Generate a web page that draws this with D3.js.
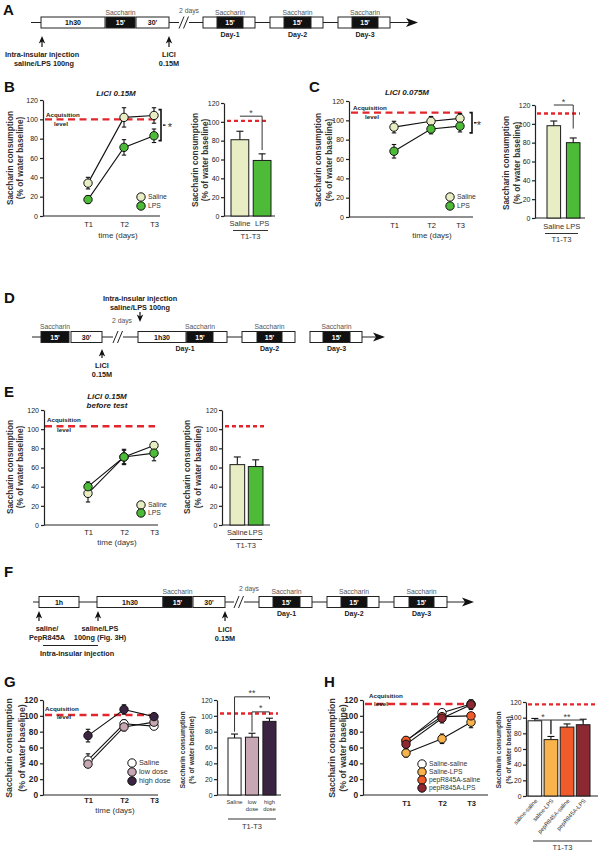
<!DOCTYPE html>
<html><head><meta charset="utf-8">
<script src="https://cdn.jsdelivr.net/npm/d3@7"></script>
<style>body{margin:0;background:#fff}svg{display:block}</style>
</head><body><svg id="c" width="600" height="853"></svg>
<script>
// ---------------- DATA ----------------
const timePoints = ["T1","T2","T3"];
const yTickValues = [0,20,40,60,80,100,120];

// Panel B (LiCl 0.15M)
const bSeriesNames = ["Saline","LPS"];
const bSalineMean = [34,102,104], bSalineErr = [6,10,8];
const bLpsMean = [17,71,83], bLpsErr = [4,8,7];
const bBarCats = ["Saline","LPS"];
const bBarMean = [81,59], bBarErr = [9,7];
const bAcq = 100, bBarAcq = 101;

// Panel C (LiCl 0.075M)
const cSalineMean = [93,99,102], cSalineErr = [6,5,5];
const cLpsMean = [68,91,94], cLpsErr = [7,5,6];
const cBarMean = [98,80], cBarErr = [5,5];
const cAcq = 108, cBarAcq = 111;

// Panel E (LiCl 0.15M before test)
const eSalineMean = [33,71,83], eSalineErr = [9,8,4];
const eLpsMean = [40,71,75], eLpsErr = [5,7,8];
const eBarMean = [63,61], eBarErr = [8,7];
const eAcq = 103, eBarAcq = 103;

// Panel G
const gGroups = ["Saline","low dose","high dose"];
const gSalineMean = [44,90,87], gSalineErr = [8,5,3];
const gLowMean = [39,86,92], gLowErr = [4,5,4];
const gHighMean = [75,108,99], gHighErr = [8,6,4];
const gBarLabels = [["Saline"],["low","dose"],["high","dose"]];
const gBarMean = [72,73,93], gBarErr = [5,5,4];
const gAcq = 101, gBarAcq = 103;

// Panel H
const hGroups = ["Saline-saline","Saline-LPS","pepR845A-saline","pepR845A-LPS"];
const hBarLabels = ["saline-saline","saline-LPS","pepR845A-saline","pepR845A-LPS"];
const hSsMean = [68,104,115], hSsErr = [5,3,5];
const hSlMean = [53,71,92], hSlErr = [5,6,7];
const hPsMean = [69,99,100], hPsErr = [4,6,4];
const hPlMean = [64,97,114], hPlErr = [6,6,6];
const hBarMean = [96,72,88,91], hBarErr = [3,4,4,7];
const hAcq = 115, hBarAcq = 117;

// ---------------- STYLE ----------------
const FONT = '"Liberation Sans", Arial, Helvetica, sans-serif';
const RED = "#e3262d";
const CREAM = "#e9edc3", GREEN = "#4dbb38";
const WHITE = "#ffffff", MAUVE = "#c7a7b3", PURPLE = "#3a2442";
const LORANGE = "#f8b34c", ORED = "#f15a29", DRED = "#8c2832";

const svg = d3.select("#c");

function txt(g,x,y,s,o={}){
  return g.append("text").attr("x",x).attr("y",y).text(s)
    .attr("font-family",FONT).attr("font-size",o.fs||7)
    .attr("font-weight",o.fw||"normal").attr("font-style",o.it?"italic":"normal")
    .attr("text-anchor",o.a||"middle").attr("fill",o.c||"#1a1a1a");
}
function styleAxis(sel,fs,fw){
  sel.selectAll("text").attr("font-family",FONT).attr("font-size",fs).attr("font-weight",fw).attr("fill","#222");
  sel.selectAll("line,path").attr("stroke","#222").attr("stroke-width",1.2);
}
function yLabel(g,xs,cy,fs){
  ["Saccharin consumption","(% of water baseline)"].forEach((s,i)=>{
    g.append("text").attr("transform",`translate(${xs[i]},${cy}) rotate(-90)`).attr("dy","0.35em")
      .attr("text-anchor","middle").attr("font-family",FONT).attr("font-size",fs)
      .attr("font-weight","bold").attr("fill","#333").text(s);
  });
}

// ---------------- LINE CHART ----------------
function lineChart(o){
  const g = svg.append("g");
  const y = d3.scaleLinear().domain([0,120]).range([o.yBase,o.yTop]);
  const x = d3.scaleOrdinal().domain(timePoints).range(o.tOff.map(d=>o.x0+d));
  g.append("line").attr("x1",o.acqX[0]).attr("x2",o.acqX[1]).attr("y1",y(o.acq)).attr("y2",y(o.acq))
    .attr("stroke",RED).attr("stroke-width",2.4).attr("stroke-dasharray","7,4.5");
  txt(g,o.acqT[0],o.acqT[1],"Acquisition",{fs:6.2,fw:"bold",a:"start"});
  txt(g,o.lvlT[0],o.lvlT[1],"level",{fs:6.2,fw:"bold"});
  const ay = g.append("g").attr("transform",`translate(${o.x0},0)`)
    .call(d3.axisLeft(y).tickValues(yTickValues).tickSize(3).tickSizeOuter(0).tickPadding(2));
  styleAxis(ay,o.tfs,o.tfw);
  const ax = g.append("g").attr("transform",`translate(0,${o.yBase})`)
    .call(d3.axisBottom(x).tickSize(0).tickPadding(o.xpad));
  ax.select(".domain").remove();
  styleAxis(ax,7.5,o.tfw);
  g.append("line").attr("x1",o.x0).attr("x2",o.x1).attr("y1",o.yBase).attr("y2",o.yBase)
    .attr("stroke","#222").attr("stroke-width",1.2);
  if(o.xTitle) txt(g,o.xTitle[0],o.xTitle[1],"time (days)",{fs:8,c:"#333"});
  yLabel(g,o.yl,o.ylc,o.ylfs);
  const all = o.series.map(s=>timePoints.map((t,i)=>({t,m:s.mean[i],e:s.err[i],fill:s.fill})));
  all.forEach(pts=>{
    g.append("path").datum(pts).attr("fill","none").attr("stroke","#111").attr("stroke-width",1.1)
      .attr("d",d3.line().x(d=>x(d.t)).y(d=>y(d.m)));
    pts.forEach(d=>{
      const cx = x(d.t);
      g.append("line").attr("x1",cx).attr("x2",cx).attr("y1",y(d.m-d.e)).attr("y2",y(d.m+d.e)).attr("stroke","#111").attr("stroke-width",1.1);
      [d.m-d.e,d.m+d.e].forEach(v=>g.append("line").attr("x1",cx-2.2).attr("x2",cx+2.2).attr("y1",y(v)).attr("y2",y(v)).attr("stroke","#111").attr("stroke-width",1.1));
    });
  });
  all.forEach(pts=>{
    g.selectAll(null).data(pts).enter().append("circle")
      .attr("cx",d=>x(d.t)).attr("cy",d=>y(d.m)).attr("r",4.2)
      .attr("fill",d=>d.fill).attr("stroke","#111").attr("stroke-width",1);
  });
  o.series.forEach((s,i)=>{
    g.append("circle").attr("cx",o.leg.x).attr("cy",o.leg.y[i]).attr("r",4.2).attr("fill",s.fill).attr("stroke","#111").attr("stroke-width",1);
    txt(g,o.leg.x+7,o.leg.y[i]+2.4,s.name,{fs:o.leg.fs,a:"start",c:"#333"});
  });
  if(o.bracket){
    const b=o.bracket, yt=y(b.top), yb=y(b.bottom), ym=(yt+yb)/2;
    g.append("path").attr("d",`M${b.x-2.5},${yt}L${b.x},${yt}L${b.x},${yb}L${b.x-2.5},${yb}`)
      .attr("fill","none").attr("stroke","#111").attr("stroke-width",1.6);
    g.append("line").attr("x1",b.x+2).attr("x2",b.x+4.5).attr("y1",ym).attr("y2",ym).attr("stroke","#111").attr("stroke-width",1.4);
    txt(g,b.sx,ym+6,"*",{fs:11,c:"#333"});
  }
}

// ---------------- BAR CHART ----------------
function barChart(o){
  const g = svg.append("g");
  const y = d3.scaleLinear().domain([0,120]).range([o.yBase,o.yTop]);
  const x = d3.scaleBand().domain(o.cats).range(o.band).paddingInner(o.pad);
  g.append("line").attr("x1",o.acqX[0]).attr("x2",o.acqX[1]).attr("y1",y(o.acq)).attr("y2",y(o.acq))
    .attr("stroke",RED).attr("stroke-width",2.4).attr("stroke-dasharray","4,3");
  const ay = g.append("g").attr("transform",`translate(${o.x0},0)`)
    .call(d3.axisLeft(y).tickValues(yTickValues).tickSize(3).tickSizeOuter(0).tickPadding(1.5));
  styleAxis(ay,o.tfs,o.tfw);
  g.append("line").attr("x1",o.x0).attr("x2",o.x1).attr("y1",o.yBase).attr("y2",o.yBase)
    .attr("stroke","#222").attr("stroke-width",1.2);
  const data = o.cats.map((c,i)=>({c,m:o.mean[i],e:o.err[i],f:o.fills[i]}));
  data.forEach(d=>{
    const cx = x(d.c)+x.bandwidth()/2;
    g.append("line").attr("x1",cx).attr("x2",cx).attr("y1",y(d.m)).attr("y2",y(d.m+d.e)).attr("stroke","#111").attr("stroke-width",1.1);
    g.append("line").attr("x1",cx-3.5).attr("x2",cx+3.5).attr("y1",y(d.m+d.e)).attr("y2",y(d.m+d.e)).attr("stroke","#111").attr("stroke-width",1.1);
  });
  g.selectAll(null).data(data).enter().append("rect")
    .attr("x",d=>x(d.c)).attr("y",d=>y(d.m)).attr("width",x.bandwidth()).attr("height",d=>o.yBase-y(d.m))
    .attr("fill",d=>d.f).attr("stroke","#1a1a1a").attr("stroke-width",1);
  const xc = i=>x(o.cats[i])+x.bandwidth()/2;
  (o.sig||[]).forEach(s=>{
    const yy=y(s.val);
    g.append("line").attr("x1",xc(s.a)).attr("x2",xc(s.b)).attr("y1",yy).attr("y2",yy).attr("stroke","#333").attr("stroke-width",1);
    if(s.dropA!=null) g.append("line").attr("x1",xc(s.a)).attr("x2",xc(s.a)).attr("y1",yy).attr("y2",y(s.dropA)).attr("stroke","#333").attr("stroke-width",1);
    if(s.dropB!=null) g.append("line").attr("x1",xc(s.b)).attr("x2",xc(s.b)).attr("y1",yy).attr("y2",y(s.dropB)).attr("stroke","#333").attr("stroke-width",1);
    txt(g,(xc(s.a)+xc(s.b))/2,yy-0.5,s.text,{fs:9,c:"#444"});
  });
  if(o.rotLabels){
    o.labels.forEach((l,i)=>{
      g.append("text").attr("transform",`translate(${xc(i)+3},${o.labY}) rotate(-48)`)
        .attr("text-anchor","end").attr("font-family",FONT).attr("font-size",o.labFs).attr("fill","#333").text(l[0]);
    });
  } else {
    o.labels.forEach((l,i)=>l.forEach((s,j)=>txt(g,xc(i),o.labY+j*o.labDy,s,{fs:o.labFs,c:"#333"})));
  }
  g.append("line").attr("x1",o.ul[0]).attr("x2",o.ul[1]).attr("y1",o.ul[2]).attr("y2",o.ul[2]).attr("stroke","#333").attr("stroke-width",1);
  txt(g,(o.ul[0]+o.ul[1])/2,o.grpY,"T1-T3",{fs:7.5,c:"#333"});
  yLabel(g,o.yl,o.ylc,o.ylfs);
}

// ---------------- TIMELINE HELPERS ----------------
const T = svg.append("g");
function hline(x1,x2,y){T.append("line").attr("x1",x1).attr("x2",x2).attr("y1",y).attr("y2",y).attr("stroke","#222").attr("stroke-width",1);}
function box(x1,x2,y,black,label){
  T.append("rect").attr("x",x1).attr("y",y-5.5).attr("width",x2-x1).attr("height",11)
    .attr("fill",black?"#111":"#fff").attr("stroke","#222").attr("stroke-width",1);
  if(label) txt(T,(x1+x2)/2,y+2.6,label,{fs:7,fw:"bold",c:black?"#fff":"#111"});
}
function sacc(x1,x2,y){txt(T,(x1+x2)/2,y-7.8,"Saccharin",{fs:6.8,c:"#555"});}
function dayBox(x1,x2,b1,b2,y,day,dayX){
  box(x1,x2,y,false); box(b1,b2,y,true,"15'"); sacc(b1,b2,y);
  txt(T,dayX!=null?dayX:(b1+b2)/2,y+14,day,{fs:7,fw:"bold"});
}
function slashes(x,y){[0,4.5].forEach(d=>T.append("line").attr("x1",x+d).attr("y1",y+6).attr("x2",x+d+5).attr("y2",y-6).attr("stroke","#222").attr("stroke-width",1));}
function arrowUp(x,tip,tail){
  T.append("line").attr("x1",x).attr("x2",x).attr("y1",tip+5).attr("y2",tail).attr("stroke","#111").attr("stroke-width",1.2);
  T.append("path").attr("d",`M${x},${tip}L${x-3.2},${tip+7.5}L${x},${tip+5.5}L${x+3.2},${tip+7.5}Z`).attr("fill","#111");
}
function arrowDown(x,tail,tip){
  T.append("line").attr("x1",x).attr("x2",x).attr("y1",tail).attr("y2",tip-5).attr("stroke","#111").attr("stroke-width",1.2);
  T.append("path").attr("d",`M${x},${tip}L${x-3.2},${tip-7.5}L${x},${tip-5.5}L${x+3.2},${tip-7.5}Z`).attr("fill","#111");
}
function arrowRight(xTip,y){T.append("path").attr("d",`M${xTip},${y}L${xTip-12},${y-4.5}L${xTip-9},${y}L${xTip-12},${y+4.5}Z`).attr("fill","#111");}
function bt(x,y,s,fs){txt(T,x,y,s,{fs:fs||7.3,fw:"bold",c:"#222"});}

// Panel letters
[["A",3,15],["B",4,92],["C",309,92],["D",4,303],["E",4,397],["F",4,577],["G",4,687],["H",324,687]]
  .forEach(d=>txt(svg,d[1],d[2],d[0],{fs:15,fw:"bold",a:"start",c:"#111"}));

// ---- Panel A timeline ----
(function(){
  const y=22.5;
  hline(31,41,y); box(41,105,y,false,"1h30"); box(106,135,y,true,"15'"); sacc(106,135,y);
  box(136,169,y,false,"30'"); hline(169,179,y); slashes(179,y); hline(189,203,y);
  dayBox(203,255,217,243,y,"Day-1"); hline(255,270,y);
  dayBox(270,323,284,311,y,"Day-2"); hline(323,338,y);
  dayBox(338,390,352,378,y,"Day-3"); hline(390,412,y); arrowRight(418,y);
  txt(T,189,13,"2 days",{fs:6.8,c:"#555"});
  arrowUp(42,36,47); arrowUp(169,36,47);
  bt(42,57,"Intra-insular injection"); bt(44,66,"saline/LPS 100ng");
  bt(169,57,"LiCl"); bt(169,66,"0.15M");
})();

// ---- Panel D timeline ----
(function(){
  const y=337;
  hline(32,41,y); box(41,69,y,true,"15'"); sacc(41,69,y); box(71,102,y,false,"30'");
  hline(102,113,y); slashes(113,y); hline(123,138,y);
  box(138,186,y,false,"1h30"); dayBox(187,227,187,213,y,"Day-1",185);
  hline(227,242,y); dayBox(242,295,257,282,y,"Day-2");
  dayBox(310,362,323,350,y,"Day-3"); hline(362,378,y); arrowRight(385,y);
  txt(T,122,323,"2 days",{fs:6.8,c:"#555"});
  bt(140,301,"Intra-insular injection"); bt(140,310,"saline/LPS 100ng");
  arrowDown(140,312,322);
  arrowUp(102,349,358); bt(102,368,"LiCl"); bt(102,377,"0.15M");
})();

// ---- Panel F timeline ----
(function(){
  const y=602;
  hline(33,39,y); box(39,79,y,false,"1h"); hline(79,97,y); box(97,163,y,false,"1h30");
  box(163,192,y,true,"15'"); sacc(163,192,y); box(193,225,y,false,"30'");
  hline(225,234,y); slashes(234,y); hline(244,259,y);
  dayBox(259,312,273,300,y,"Day-1"); hline(312,327,y);
  dayBox(327,379,341,367,y,"Day-2"); hline(379,394,y);
  dayBox(394,447,409,434,y,"Day-3"); hline(447,467,y); arrowRight(474,y);
  txt(T,249,591,"2 days",{fs:6.8,c:"#555"});
  arrowUp(39,611,621); arrowUp(98,611,621); arrowUp(225,611,621);
  bt(47,631,"saline/"); bt(47,640,"PepR845A");
  bt(100,631,"saline/LPS"); bt(100,640,"100ng (Fig. 3H)");
  T.append("line").attr("x1",43).attr("x2",98).attr("y1",645.5).attr("y2",645.5).attr("stroke","#222").attr("stroke-width",1);
  bt(77,656,"Intra-insular injection");
  bt(225,632,"LiCl"); bt(225,641,"0.15M");
})();

// Panel titles
txt(svg,116,96,"LiCl 0.15M",{fs:8,fw:"bold",it:true,c:"#222"});
txt(svg,407,95,"LiCl 0.075M",{fs:8,fw:"bold",it:true,c:"#222"});
txt(svg,107,399,"LiCl 0.15M",{fs:8,fw:"bold",it:true,c:"#222"});
txt(svg,107,408,"before test",{fs:8,fw:"bold",it:true,c:"#222"});

// ---- Panel B ----
lineChart({x0:43,x1:160,yBase:216,yTop:100,tOff:[45,81,111],acq:bAcq,acqX:[45,156],
  acqT:[46,116.5],lvlT:[61,125.5],tfs:7,tfw:"normal",xpad:6,xTitle:[118,238],yl:[10,20],ylc:158,ylfs:8.3,
  series:[{name:bSeriesNames[0],mean:bSalineMean,err:bSalineErr,fill:CREAM},{name:bSeriesNames[1],mean:bLpsMean,err:bLpsErr,fill:GREEN}],
  leg:{x:141,y:[197,206],fs:6.8},bracket:{x:161,top:110,bottom:78,sx:170}});
barChart({x0:224,x1:275,yBase:216,yTop:103,cats:bBarCats,mean:bBarMean,err:bBarErr,fills:[CREAM,GREEN],
  band:[231,271],pad:0.2,acq:bBarAcq,acqX:[227,268],tfs:7,tfw:"normal",
  sig:[{a:0,b:1,val:106,dropA:null,dropB:70,text:"*"}],
  labels:bBarCats.map(c=>[c]),labY:226,labDy:0,labFs:7.5,ul:[233,268,230.5],grpY:239,yl:[195,205],ylc:160,ylfs:8.3});

// ---- Panel C ----
lineChart({x0:349,x1:473,yBase:217,yTop:101,tOff:[45,82,111],acq:cAcq,acqX:[351,462],
  acqT:[353,109.5],lvlT:[372,119],tfs:7,tfw:"normal",xpad:6,xTitle:[432,238],yl:[318,329],ylc:160,ylfs:8.3,
  series:[{name:bSeriesNames[0],mean:cSalineMean,err:cSalineErr,fill:CREAM},{name:bSeriesNames[1],mean:cLpsMean,err:cLpsErr,fill:GREEN}],
  leg:{x:450,y:[197,206],fs:6.8},bracket:{x:472,top:108,bottom:87,sx:479}});
barChart({x0:535,x1:585,yBase:218,yTop:105,cats:bBarCats,mean:cBarMean,err:cBarErr,fills:[CREAM,GREEN],
  band:[547,580],pad:0.3,acq:cBarAcq,acqX:[537,580],tfs:7,tfw:"normal",
  sig:[{a:0,b:1,val:120,dropA:null,dropB:95,text:"*"}],
  labels:bBarCats.map(c=>[c]),labY:229,labDy:0,labFs:7.5,ul:[545,578,233.5],grpY:242,yl:[506,517],ylc:163,ylfs:8.3});

// ---- Panel E ----
lineChart({x0:44,x1:158,yBase:525,yTop:410,tOff:[44,80,110],acq:eAcq,acqX:[45,155],
  acqT:[47,422],lvlT:[64,431.5],tfs:7,tfw:"normal",xpad:5,xTitle:[117,545],yl:[10,20],ylc:467,ylfs:8.3,
  series:[{name:bSeriesNames[0],mean:eSalineMean,err:eSalineErr,fill:CREAM},{name:bSeriesNames[1],mean:eLpsMean,err:eLpsErr,fill:GREEN}],
  leg:{x:141,y:[505,513],fs:6.8}});
barChart({x0:222,x1:270,yBase:525,yTop:410,cats:bBarCats,mean:eBarMean,err:eBarErr,fills:[CREAM,GREEN],
  band:[230,263],pad:0.2,acq:eBarAcq,acqX:[225,267],tfs:7,tfw:"normal",sig:[],
  labels:bBarCats.map(c=>[c]),labY:535,labDy:0,labFs:7.5,ul:[230,262,539.5],grpY:548,yl:[187,198],ylc:467,ylfs:8.3});

// ---- Panel G ----
lineChart({x0:43,x1:158,yBase:795,yTop:700,tOff:[45,81,111],acq:gAcq,acqX:[45,150],
  acqT:[45,711],lvlT:[64,718.5],tfs:8.3,tfw:"bold",xpad:3,xTitle:[115,813],yl:[9,22],ylc:748,ylfs:8.8,
  series:[{name:gGroups[0],mean:gSalineMean,err:gSalineErr,fill:WHITE},{name:gGroups[1],mean:gLowMean,err:gLowErr,fill:MAUVE},{name:gGroups[2],mean:gHighMean,err:gHighErr,fill:PURPLE}],
  leg:{x:132,y:[763,772,781],fs:7.3}});
barChart({x0:217,x1:281,yBase:795,yTop:700,cats:gGroups,mean:gBarMean,err:gBarErr,fills:[WHITE,MAUVE,PURPLE],
  band:[228,276],pad:0.25,acq:gBarAcq,acqX:[220,278],tfs:6.8,tfw:"normal",
  sig:[{a:0,b:2,val:124,dropA:80,dropB:121,text:"**"},{a:1,b:2,val:105,dropA:80,dropB:101,text:"*"}],
  labels:gBarLabels,labY:804,labDy:6.5,labFs:5.8,ul:[228,276,819],grpY:829,yl:[183,192],ylc:750,ylfs:6.8});

// ---- Panel H ----
lineChart({x0:363,x1:488,yBase:795,yTop:700,tOff:[43,79,108],acq:hAcq,acqX:[365,480],
  acqT:[369,697.5],lvlT:[381,705.5],tfs:8.3,tfw:"bold",xpad:6,xTitle:null,yl:[332,343],ylc:748,ylfs:8.8,
  series:[{name:hGroups[0],mean:hSsMean,err:hSsErr,fill:WHITE},{name:hGroups[1],mean:hSlMean,err:hSlErr,fill:LORANGE},{name:hGroups[2],mean:hPsMean,err:hPsErr,fill:ORED},{name:hGroups[3],mean:hPlMean,err:hPlErr,fill:DRED}],
  leg:{x:422,y:[764,772,780,788],fs:6.7}});
barChart({x0:526,x1:598,yBase:796,yTop:702,cats:hGroups,mean:hBarMean,err:hBarErr,fills:[WHITE,LORANGE,ORED,DRED],
  band:[528,590],pad:0.15,acq:hBarAcq,acqX:[528,598],tfs:6.8,tfw:"normal",
  sig:[{a:0,b:1,val:97,dropA:null,dropB:79,text:"*"},{a:1,b:3,val:97,dropA:79,dropB:94,text:"**"}],
  rotLabels:true,labels:hBarLabels.map(c=>[c]),labY:801,labFs:5.8,ul:[533,592,841],grpY:850,yl:[499,509],ylc:750,ylfs:6.8});
</script></body></html>
